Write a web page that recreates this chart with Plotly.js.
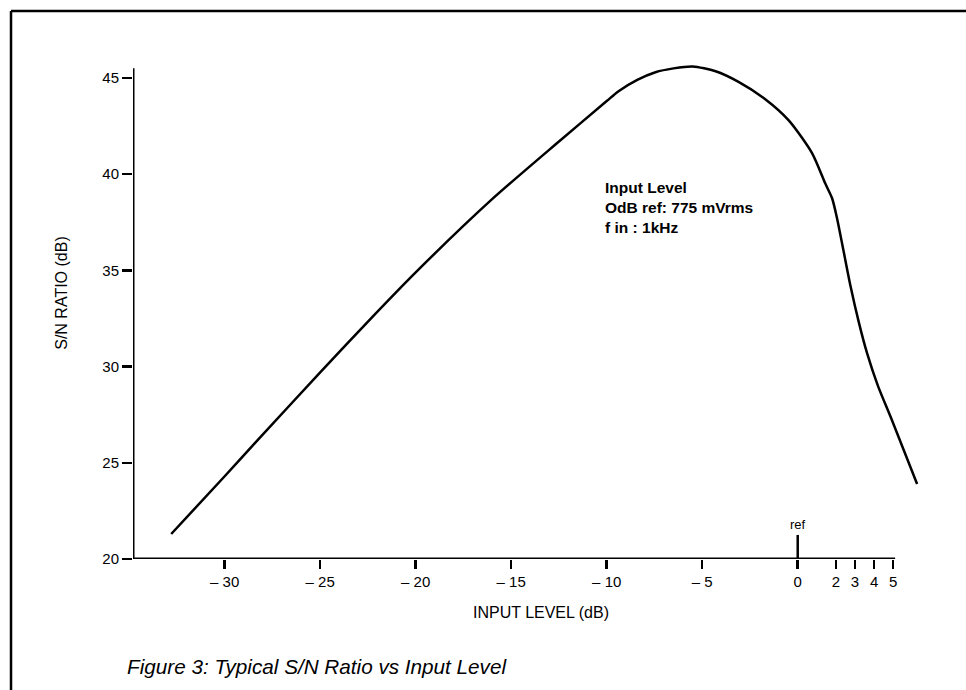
<!DOCTYPE html>
<html>
<head>
<meta charset="utf-8">
<script src="https://cdn.plot.ly/plotly-3.0.1.min.js"></script>
<style>
  html, body { margin: 0; padding: 0; background: #fff; }
  #chart { width: 966px; height: 690px; }
</style>
</head>
<body>
<div id="chart"></div>
<script>
// ---- data ----
const inputLevel = [-32.8, -30, -28.3, -25, -22.3, -20, -16, -12.5, -10, -9.4, -8.4, -7.45, -6.5, -5.5, -4.3, -3.1, -1.7, -0.47, 0.75, 1.45, 1.8, 2.06, 2.76, 3.2, 3.63, 4.2, 4.94, 6.25];
const snRatio    = [21.3, 24.3, 26.15, 29.7, 32.55, 34.9, 38.7, 41.7, 43.8, 44.3, 44.9, 45.3, 45.5, 45.6, 45.35, 44.8, 43.9, 42.8, 41.1, 39.5, 38.75, 37.7, 34.2, 32.3, 30.7, 29.0, 27.2, 23.9];

const xTickVals  = [-30, -25, -20, -15, -10, -5, 0, 2, 3, 4, 5];
const xTickText  = ['\u2013 30', '\u2013 25', '\u2013 20', '\u2013 15', '\u2013 10', '\u2013 5', '0', '2', '3', '4', '5'];
const yTickVals  = [20, 25, 30, 35, 40, 45];

const xAxisStart = -34.8, xAxisEnd = 5.1;
const yAxisStart = 20, yAxisEnd = 45.5;
const refMarkTop = 21.25;

const noteLines = ['Input Level', 'OdB ref: 775 mVrms', 'f in : 1kHz'];
const captionText = 'Figure 3: Typical S/N Ratio vs Input Level';

const FONT = 'Liberation Sans, Arial, Helvetica, sans-serif';

const trace = {
  x: inputLevel,
  y: snRatio,
  type: 'scatter',
  mode: 'lines',
  line: { color: '#000', width: 2.5, shape: 'spline', smoothing: 0.7 },
  hoverinfo: 'skip',
  showlegend: false
};

const layout = {
  width: 966,
  height: 690,
  margin: { l: 133, r: 17, t: 27, b: 131 },
  paper_bgcolor: '#fff',
  plot_bgcolor: '#fff',
  font: { family: FONT, color: '#000', size: 15 },
  showlegend: false,
  xaxis: {
    range: [-34.8, 7.92],
    showgrid: false,
    zeroline: false,
    showline: false,
    tickmode: 'array',
    tickvals: xTickVals,
    ticktext: xTickText,
    ticks: 'outside',
    ticklen: 9,
    tickwidth: 2.5,
    tickcolor: '#000',
    tickfont: { family: FONT, size: 15, color: '#000' },
    title: { text: 'INPUT LEVEL (dB)', font: { family: FONT, size: 16, color: '#000' }, standoff: 17 },
    fixedrange: true
  },
  yaxis: {
    range: [20, 47.65],
    showgrid: false,
    zeroline: false,
    showline: false,
    tickmode: 'array',
    tickvals: yTickVals,
    ticks: 'outside',
    ticklen: 10,
    tickwidth: 2.5,
    tickcolor: '#000',
    tickfont: { family: FONT, size: 15, color: '#000' },
    title: { text: 'S/N RATIO (dB)', font: { family: FONT, size: 16, color: '#000' }, standoff: 30 },
    fixedrange: true
  },
  shapes: [
    // x axis line
    { type: 'line', xref: 'x', yref: 'y', x0: xAxisStart, x1: xAxisEnd, y0: yAxisStart, y1: yAxisStart,
      line: { color: '#000', width: 3 } },
    // y axis line
    { type: 'line', xref: 'x', yref: 'y', x0: xAxisStart, x1: xAxisStart, y0: yAxisStart, y1: yAxisEnd,
      line: { color: '#000', width: 3 } },
    // ref marker
    { type: 'line', xref: 'x', yref: 'y', x0: 0, x1: 0, y0: yAxisStart, y1: refMarkTop,
      line: { color: '#000', width: 2.5 } },
    // page frame (top and left)
    { type: 'line', xref: 'paper', yref: 'paper', x0: -0.1495, x1: 1.03, y0: 1.030, y1: 1.030,
      line: { color: '#000', width: 2.5 } },
    { type: 'line', xref: 'paper', yref: 'paper', x0: -0.1495, x1: -0.1495, y0: 1.030, y1: -0.26,
      line: { color: '#000', width: 2.5 } }
  ],
  annotations: [
    { xref: 'x', yref: 'y', x: -10.2, y: 39.85, xanchor: 'left', yanchor: 'top', align: 'left',
      showarrow: false, text: noteLines.map(function (s) { return '<b>' + s + '</b>'; }).join('<br>'),
      font: { family: FONT, size: 15.5, color: '#000' } },
    { xref: 'x', yref: 'y', x: 0, y: refMarkTop, xanchor: 'center', yanchor: 'bottom', yshift: 1,
      showarrow: false, text: 'ref', font: { family: FONT, size: 13, color: '#000' } },
    { xref: 'paper', yref: 'paper', x: -0.0098, y: -0.203, xanchor: 'left', yanchor: 'middle',
      showarrow: false, text: '<i>' + captionText + '</i>', font: { family: FONT, size: 20.7, color: '#000' } }
  ]
};

Plotly.newPlot('chart', [trace], layout, { displayModeBar: false, staticPlot: true });
</script>
</body>
</html>
